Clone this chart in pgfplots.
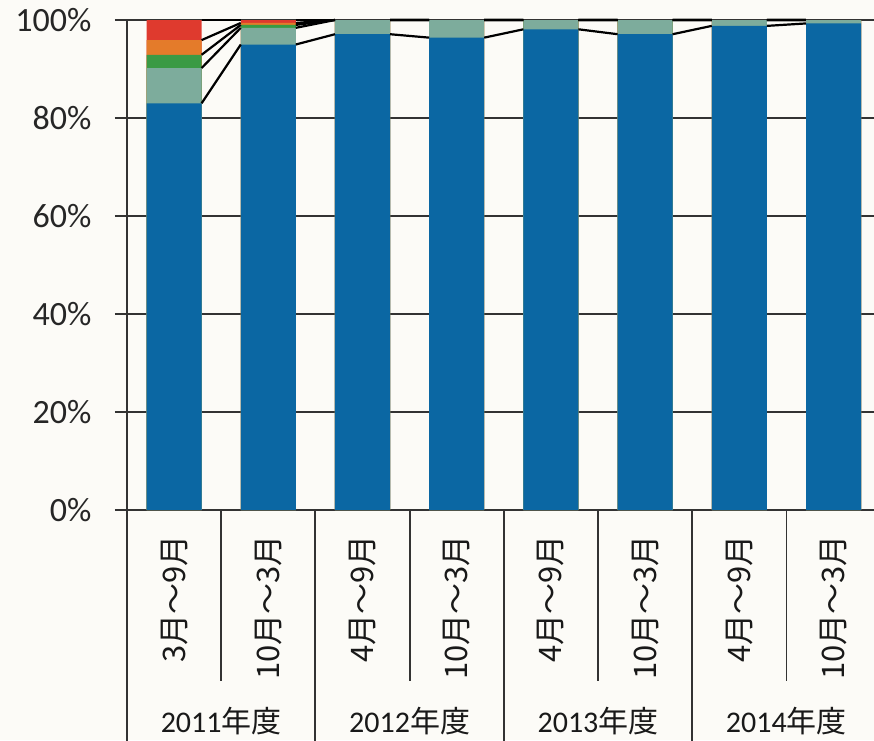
\documentclass[border=0pt]{standalone}
\usepackage{pgfplots}
\usepackage{pgfplotstable}
\pgfplotsset{compat=1.18}
\usepackage{fontspec}
\setmainfont{Carlito}
\newfontfamily\cjk{Noto Sans CJK JP}
\definecolor{bgc}{HTML}{FCFBF7}
\definecolor{cblue}{HTML}{0B67A3}
\definecolor{cgray}{HTML}{7DAC9C}
\definecolor{cgreen}{HTML}{3A9A44}
\definecolor{corange}{HTML}{E47B2A}
\definecolor{cred}{HTML}{DF3A2E}
\definecolor{axc}{HTML}{333333}

% cumulative top of each segment (percent)
\pgfplotstableread{
x blue gray green orange red
0 83.0 90.2 92.9 95.9 100
1 95.0 98.4 99.0 99.4 100
2 97.1 100 100 100 100
3 96.4 100 100 100 100
4 98.1 100 100 100 100
5 97.1 100 100 100 100
6 98.8 100 100 100 100
7 99.3 100 100 100 100
}\bars

% series lines: from right edge of one bar to left edge of the next
\pgfplotstableread{
x blue gray green orange red
0.292 83.0 90.2 92.9 95.9 100
0.708 95.0 98.4 99.0 99.4 100
1.0 nan nan nan nan nan
1.292 95.0 98.4 99.0 99.4 100
1.708 97.1 100 100 100 100
2.0 nan nan nan nan nan
2.292 97.1 100 100 100 100
2.708 96.4 100 100 100 100
3.0 nan nan nan nan nan
3.292 96.4 100 100 100 100
3.708 98.1 100 100 100 100
4.0 nan nan nan nan nan
4.292 98.1 100 100 100 100
4.708 97.1 100 100 100 100
5.0 nan nan nan nan nan
5.292 97.1 100 100 100 100
5.708 98.8 100 100 100 100
6.0 nan nan nan nan nan
6.292 98.8 100 100 100 100
6.708 99.3 100 100 100 100
}\slines

\begin{document}
\begin{tikzpicture}
\path[use as bounding box, fill=bgc] (-127pt,-230pt) rectangle (747pt,510pt);
\begin{axis}[
  at={(0,0)}, anchor=south west,
  scale only axis, width=747pt, height=490pt,
  xmin=-0.5, xmax=7.43, ymin=0, ymax=100,
  axis x line*=bottom, axis y line*=left,
  axis line style={line width=1.8pt, axc},
  ytick={0,20,40,60,80,100},
  yticklabels={0\%,20\%,40\%,60\%,80\%,100\%},
  ymajorgrids, grid style={line width=1.8pt, axc},
  ytick pos=left, tick align=outside, major tick length=12pt,
  y tick style={line width=1.8pt, axc},
  yticklabel style={font=\fontsize{34}{38}\selectfont, text=black!85},
  yticklabel shift=20pt,
  xtick={0,...,7},
  x tick style={draw=none},
  xticklabels={{3月～9月},{10月～3月},{4月～9月},{10月～3月},{4月～9月},{10月～3月},{4月～9月},{10月～3月}},
  xticklabel style={font=\cjk\fontsize{31}{34}\selectfont, text=black!90, inner sep=0pt, rotate=90, anchor=east},
  xticklabel shift=13pt,
  clip=false,
  unbounded coords=jump,
]
\addplot[ybar, bar shift=0pt, bar width=55pt, fill=cred, draw=none] table[x=x,y=red]{\bars};
\addplot[ybar, bar shift=0pt, bar width=55pt, fill=corange, draw=none] table[x=x,y=orange]{\bars};
\addplot[ybar, bar shift=0pt, bar width=55pt, fill=cgreen, draw=none] table[x=x,y=green]{\bars};
\addplot[ybar, bar shift=0pt, bar width=55pt, fill=cgray, draw=none] table[x=x,y=gray]{\bars};
\addplot[ybar, bar shift=0pt, bar width=55pt, fill=cblue, draw=none] table[x=x,y=blue]{\bars};

\addplot[sharp plot, no markers, black, line width=2.2pt] table[x=x,y=blue]{\slines};
\addplot[sharp plot, no markers, black, line width=2.2pt] table[x=x,y=gray]{\slines};
\addplot[sharp plot, no markers, black, line width=2.2pt] table[x=x,y=green]{\slines};
\addplot[sharp plot, no markers, black, line width=2.2pt] table[x=x,y=orange]{\slines};
\addplot[sharp plot, no markers, black, line width=2.2pt] table[x=x,y=red]{\slines};

% category separators below the axis
\draw[line width=1.8pt, axc] (axis cs:-0.5,0) -- ([yshift=-232pt]axis cs:-0.5,0);
\draw[line width=1.8pt, axc] (axis cs:1.5,0) -- ([yshift=-232pt]axis cs:1.5,0);
\draw[line width=1.8pt, axc] (axis cs:3.5,0) -- ([yshift=-232pt]axis cs:3.5,0);
\draw[line width=1.8pt, axc] (axis cs:5.5,0) -- ([yshift=-232pt]axis cs:5.5,0);
\draw[line width=1.8pt, axc] (axis cs:0.5,0) -- ([yshift=-171pt]axis cs:0.5,0);
\draw[line width=1.8pt, axc] (axis cs:2.5,0) -- ([yshift=-171pt]axis cs:2.5,0);
\draw[line width=1.8pt, axc] (axis cs:4.5,0) -- ([yshift=-171pt]axis cs:4.5,0);
\draw[line width=1.8pt, axc] (axis cs:6.5,0) -- ([yshift=-171pt]axis cs:6.5,0);

% fiscal-year group labels
\node[font=\fontsize{30}{34}\selectfont, text=black!90, inner sep=0pt, yshift=-211pt] at (axis cs:0.5,0) {2011{\cjk 年度}};
\node[font=\fontsize{30}{34}\selectfont, text=black!90, inner sep=0pt, yshift=-211pt] at (axis cs:2.5,0) {2012{\cjk 年度}};
\node[font=\fontsize{30}{34}\selectfont, text=black!90, inner sep=0pt, yshift=-211pt] at (axis cs:4.5,0) {2013{\cjk 年度}};
\node[font=\fontsize{30}{34}\selectfont, text=black!90, inner sep=0pt, yshift=-211pt] at (axis cs:6.5,0) {2014{\cjk 年度}};
\end{axis}
\end{tikzpicture}
\end{document}
